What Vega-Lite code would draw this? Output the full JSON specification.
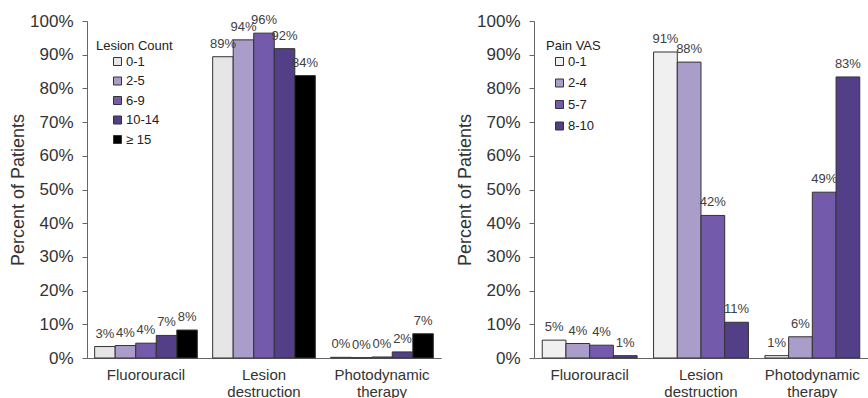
{
  "$schema": "https://vega.github.io/schema/vega-lite/v6.json",
  "padding": {"left": 9, "top": 12, "right": 0, "bottom": 0},
  "spacing": 15,
  "config": {
    "view": {"stroke": null},
    "font": "Liberation Sans",
    "axis": {"labelFont": "Liberation Sans", "titleFont": "Liberation Sans", "labelColor": "#333", "titleColor": "#333", "domainColor": "#666", "tickColor": "#666"},
    "legend": {"labelFont": "Liberation Sans", "titleFont": "Liberation Sans"}
  },
  "datasets": {
    "lesion": [
      {"treatment": "Fluorouracil", "group": "0-1", "value": 0.034},
      {"treatment": "Fluorouracil", "group": "2-5", "value": 0.037},
      {"treatment": "Fluorouracil", "group": "6-9", "value": 0.044},
      {"treatment": "Fluorouracil", "group": "10-14", "value": 0.067},
      {"treatment": "Fluorouracil", "group": "≥ 15", "value": 0.083},
      {"treatment": "Lesion destruction", "group": "0-1", "value": 0.894},
      {"treatment": "Lesion destruction", "group": "2-5", "value": 0.944},
      {"treatment": "Lesion destruction", "group": "6-9", "value": 0.964},
      {"treatment": "Lesion destruction", "group": "10-14", "value": 0.918},
      {"treatment": "Lesion destruction", "group": "≥ 15", "value": 0.838},
      {"treatment": "Photodynamic therapy", "group": "0-1", "value": 0.002},
      {"treatment": "Photodynamic therapy", "group": "2-5", "value": 0.001},
      {"treatment": "Photodynamic therapy", "group": "6-9", "value": 0.003},
      {"treatment": "Photodynamic therapy", "group": "10-14", "value": 0.018},
      {"treatment": "Photodynamic therapy", "group": "≥ 15", "value": 0.072}
    ],
    "pain": [
      {"treatment": "Fluorouracil", "group": "0-1", "value": 0.053},
      {"treatment": "Fluorouracil", "group": "2-4", "value": 0.043},
      {"treatment": "Fluorouracil", "group": "5-7", "value": 0.038},
      {"treatment": "Fluorouracil", "group": "8-10", "value": 0.007},
      {"treatment": "Lesion destruction", "group": "0-1", "value": 0.908},
      {"treatment": "Lesion destruction", "group": "2-4", "value": 0.878},
      {"treatment": "Lesion destruction", "group": "5-7", "value": 0.423},
      {"treatment": "Lesion destruction", "group": "8-10", "value": 0.106},
      {"treatment": "Photodynamic therapy", "group": "0-1", "value": 0.007},
      {"treatment": "Photodynamic therapy", "group": "2-4", "value": 0.063},
      {"treatment": "Photodynamic therapy", "group": "5-7", "value": 0.492},
      {"treatment": "Photodynamic therapy", "group": "8-10", "value": 0.834}
    ]
  },
  "hconcat": [
    {
      "width": 354,
      "height": 337,
      "data": {"name": "lesion"},
      "encoding": {
        "x": {"field": "treatment", "type": "nominal", "sort": ["Fluorouracil", "Lesion destruction", "Photodynamic therapy"],
          "scale": {"paddingInner": 0.13, "paddingOuter": 0.065},
          "axis": {"title": null, "labelAngle": 0, "labelFontSize": 15, "labelLineHeight": 17, "labelPadding": 9, "ticks": false, "labelExpr": "split(datum.label, ' ')", "labelBaseline": "top"}},
        "xOffset": {"field": "group", "type": "nominal", "sort": ["0-1", "2-5", "6-9", "10-14", "≥ 15"], "scale": {"paddingInner": 0, "paddingOuter": 0}},
        "y": {"field": "value", "type": "quantitative", "scale": {"domain": [0, 1]},
          "axis": {"title": "Percent of Patients", "titleFontSize": 18, "titleFontWeight": "normal", "titlePadding": 2, "labelFontSize": 17, "tickSize": 5, "labelPadding": 9, "grid": false, "format": ".0%", "values": [0, 0.1, 0.2, 0.3, 0.4, 0.5, 0.6, 0.7, 0.8, 0.9, 1]}}
      },
      "layer": [
        {
          "mark": {"type": "bar", "stroke": "#333", "strokeWidth": 1},
          "encoding": {
            "color": {"field": "group", "type": "nominal", "sort": ["0-1", "2-5", "6-9", "10-14", "≥ 15"],
              "scale": {"domain": ["0-1", "2-5", "6-9", "10-14", "≥ 15"], "range": ["#e6e6e6", "#aa9dca", "#735aab", "#533f88", "#000000"]},
              "legend": {"title": "Lesion Count", "orient": "none", "legendX": 9, "legendY": 19, "padding": 0, "titleFontSize": 13, "titleFontWeight": "normal", "titleColor": "#222", "titlePadding": 2, "labelFontSize": 13, "labelColor": "#222", "symbolType": "square", "symbolSize": 64, "symbolStrokeColor": "#333", "symbolStrokeWidth": 1, "symbolOffset": 15, "labelOffset": 2, "rowPadding": 5.5}}
          }
        },
        {
          "mark": {"type": "text", "baseline": "alphabetic", "dy": -9, "fontSize": 13, "color": "#404040"},
          "encoding": {"text": {"field": "value", "type": "quantitative", "format": ".0%"}}
        }
      ]
    },
    {
      "width": 334,
      "height": 337,
      "data": {"name": "pain"},
      "encoding": {
        "x": {"field": "treatment", "type": "nominal", "sort": ["Fluorouracil", "Lesion destruction", "Photodynamic therapy"],
          "scale": {"paddingInner": 0.148, "paddingOuter": 0.074},
          "axis": {"title": null, "labelAngle": 0, "labelFontSize": 15, "labelLineHeight": 17, "labelPadding": 9, "ticks": false, "labelExpr": "split(datum.label, ' ')", "labelBaseline": "top"}},
        "xOffset": {"field": "group", "type": "nominal", "sort": ["0-1", "2-4", "5-7", "8-10"], "scale": {"paddingInner": 0, "paddingOuter": 0}},
        "y": {"field": "value", "type": "quantitative", "scale": {"domain": [0, 1]},
          "axis": {"title": "Percent of Patients", "titleFontSize": 18, "titleFontWeight": "normal", "titlePadding": 2, "labelFontSize": 17, "tickSize": 5, "labelPadding": 9, "grid": false, "format": ".0%", "values": [0, 0.1, 0.2, 0.3, 0.4, 0.5, 0.6, 0.7, 0.8, 0.9, 1]}}
      },
      "layer": [
        {
          "mark": {"type": "bar", "stroke": "#333", "strokeWidth": 1},
          "encoding": {
            "color": {"field": "group", "type": "nominal", "sort": ["0-1", "2-4", "5-7", "8-10"],
              "scale": {"domain": ["0-1", "2-4", "5-7", "8-10"], "range": ["#f0f0f0", "#aa9dca", "#735aab", "#533f88"]},
              "legend": {"title": "Pain VAS", "orient": "none", "legendX": 12, "legendY": 19, "padding": 0, "titleFontSize": 13, "titleFontWeight": "normal", "titleColor": "#222", "titlePadding": 2, "labelFontSize": 13, "labelColor": "#222", "symbolType": "square", "symbolSize": 64, "symbolStrokeColor": "#333", "symbolStrokeWidth": 1, "symbolOffset": 7, "labelOffset": 2, "rowPadding": 7.5}}
          }
        },
        {
          "mark": {"type": "text", "baseline": "alphabetic", "dy": -9, "fontSize": 13, "color": "#404040"},
          "encoding": {"text": {"field": "value", "type": "quantitative", "format": ".0%"}}
        }
      ]
    }
  ],
  "resolve": {"scale": {"color": "independent", "xOffset": "independent", "x": "independent", "y": "independent"}, "legend": {"color": "independent"}}
}
